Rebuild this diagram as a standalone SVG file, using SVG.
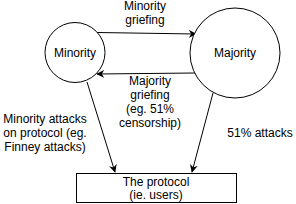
<svg xmlns="http://www.w3.org/2000/svg" width="296" height="204" viewBox="0 0 296 204">
<defs>
<marker id="ah" viewBox="0 0 10 10" refX="9" refY="5" markerWidth="8" markerHeight="8" markerUnits="userSpaceOnUse" orient="auto">
<path d="M0,0 L10,5 L0,10 L3,5 Z" fill="#000"/>
</marker>
</defs>
<style>
text{font-family:"Liberation Sans",Arial,sans-serif;font-size:12px;fill:#000;text-anchor:middle}
.n{fill:#fff;stroke:#000;stroke-width:1}
.e{fill:none;stroke:#000;stroke-width:1;marker-end:url(#ah)}
</style>
<rect width="296" height="204" fill="#fff"/>
<g id="connectors">
<line class="e" x1="97" y1="32.5" x2="196" y2="34"/>
<line class="e" x1="195" y1="73" x2="97" y2="74"/>
<line class="e" x1="87" y1="82" x2="115" y2="172"/>
<line class="e" x1="213" y1="93" x2="192" y2="172"/>
</g>
<g id="minority">
<circle class="n" cx="75" cy="52.5" r="30"/>
<text x="75" y="57">Minority</text>
</g>
<g id="majority">
<circle class="n" cx="235" cy="53" r="45"/>
<text x="235" y="57">Majority</text>
</g>
<g id="protocol">
<rect class="n" x="76.5" y="173.5" width="160" height="29"/>
<text x="156" y="186">The protocol</text>
<text x="156" y="199">(ie. users)</text>
</g>
<g id="labels">
<text x="145" y="10">Minority</text>
<text x="145" y="24">griefing</text>
<text x="150" y="85">Majority</text>
<text x="150" y="99">griefing</text>
<text x="150" y="113">(eg. 51%</text>
<text x="150" y="127">censorship)</text>
<text x="45" y="123">Minority attacks</text>
<text x="45" y="137">on protocol (eg.</text>
<text x="45" y="151">Finney attacks)</text>
<text x="260" y="137">51% attacks</text>
</g>
</svg>
